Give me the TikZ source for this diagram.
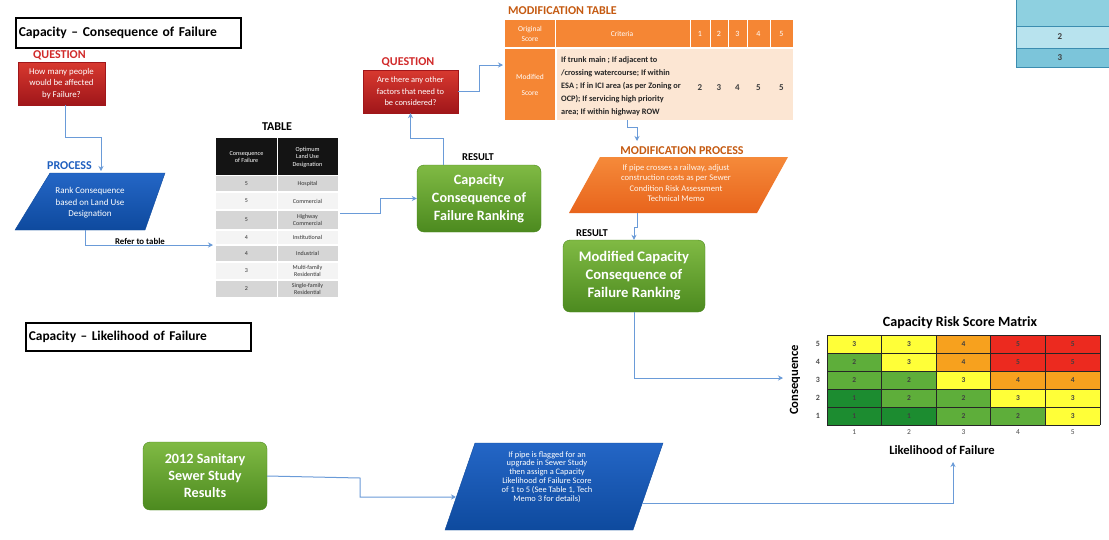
\documentclass[tikz,border=0pt]{standalone}
\usepackage{fontspec}
\setmainfont{Carlito}
\usetikzlibrary{arrows.meta}
\definecolor{connc}{HTML}{6A9BD8}
\definecolor{qred}{HTML}{D12A2A}
\definecolor{pblue}{HTML}{1F5FBF}
\definecolor{morange}{HTML}{C55A11}
\definecolor{redtop}{HTML}{D8392F}
\definecolor{redbot}{HTML}{A0161A}
\definecolor{bluetop}{HTML}{2466C6}
\definecolor{bluebot}{HTML}{0E4A9E}
\definecolor{greentop}{HTML}{80BA44}
\definecolor{greenbot}{HTML}{4C8A1F}
\definecolor{orhead}{HTML}{F58634}
\definecolor{orbody}{HTML}{FCE6D3}
\definecolor{ortop}{HTML}{F58A3A}
\definecolor{orbot}{HTML}{E8641C}
\definecolor{mDG}{HTML}{1C8C30}
\definecolor{mG}{HTML}{5EAE3A}
\definecolor{mY}{HTML}{FFFF38}
\definecolor{mO}{HTML}{F7A11E}
\definecolor{mR}{HTML}{EC2A1F}
\definecolor{tgray}{HTML}{D6D6D6}
\definecolor{twhite}{HTML}{F4F4F4}
\definecolor{cyA}{HTML}{8ED0E0}
\definecolor{cyB}{HTML}{B8E3EE}
\definecolor{cyC}{HTML}{7CC5DA}
\definecolor{cyL}{HTML}{3C8DB0}
\tikzset{
 conn/.style={draw=connc, line width=1pt, -{Stealth[length=5pt,width=5pt]}},
 titlebox/.style={draw=black, line width=1.6pt, anchor=north west, inner xsep=3pt, align=left},
 lbl/.style={font=\bfseries\fontsize{12}{14}\selectfont, inner sep=0pt},
 redbox/.style={draw=redbot, top color=redtop, bottom color=redbot, text=white, align=center, inner sep=2pt},
 greenbox/.style={draw=greenbot, rounded corners=7pt, top color=greentop, bottom color=greenbot, text=white, align=center},
 paratext/.style={text=white, align=center, inner sep=0pt},
 celltext/.style={font=\fontsize{6}{6.5}\selectfont, align=center, inner sep=0pt, text=black!80},
 mnum/.style={font=\bfseries\fontsize{7.5}{8}\selectfont, text=black!75, inner sep=0pt},
 axnum/.style={font=\fontsize{7.5}{8}\selectfont, text=black!70, inner sep=0pt},
}
\begin{document}
\begin{tikzpicture}[x=1pt,y=-1pt]
\useasboundingbox (0,0) rectangle (1109,539);
\fill[white] (0,0) rectangle (1109,539);

% top-right table fragment
\fill[cyA] (1016,0) rectangle (1109,26);
\fill[cyB] (1016,26) rectangle (1109,48);
\fill[cyC] (1016,48) rectangle (1109,67);
\draw[cyL, line width=0.8pt] (1016,0) -- (1016,67) -- (1109,67);
\draw[cyL, line width=0.8pt] (1016,26) -- (1109,26) (1016,48) -- (1109,48);
\node[font=\bfseries\fontsize{9}{10}\selectfont, text=black!75] (c2) at (1060,37) {2};
\node[font=\bfseries\fontsize{9}{10}\selectfont, text=black!75] (c3) at (1060,58) {3};

% titles
\node[titlebox, minimum width=225pt, minimum height=30pt, text width=219pt, font=\bfseries\fontsize{13.6}{15}\selectfont] (t1) at (15,17) {Capacity – Consequence of Failure};
\node[titlebox, minimum width=225pt, minimum height=28pt, text width=219pt, font=\bfseries\fontsize{13.4}{15}\selectfont] (t2) at (25,322) {Capacity – Likelihood of Failure};

% question 1
\node[lbl, text=qred, anchor=west] (ql1) at (33,55) {QUESTION};
\node[redbox, minimum width=87pt, minimum height=43pt, font=\fontsize{8.8}{11.3}\selectfont] (q1) at (61.5,83.5) {How many people\\would be affected\\by Failure?};

% process 1
\node[lbl, text=pblue, anchor=west] (pl1) at (47,166) {PROCESS};
\path[top color=bluetop, bottom color=bluebot, draw=bluebot] (50,173) -- (165,173) -- (145,230) -- (15,230) -- cycle;
\node[paratext, font=\fontsize{9}{11.5}\selectfont] (p1) at (90,203) {Rank Consequence\\based on Land Use\\Designation};
\coordinate (p1b) at (85,230);
\coordinate (p1t) at (101,171);

% table
\node[font=\bfseries\fontsize{12}{13}\selectfont, inner sep=0pt] (tl) at (277,127) {TABLE};
\fill[black!92] (216,138) rectangle (338,175);
\draw[white, line width=0.6pt] (277,138) -- (277,175);
\node[celltext, text=white, font=\fontsize{6.2}{7.5}\selectfont] (h1) at (246.5,157) {Consequence\\of Failure};
\node[celltext, text=white, font=\fontsize{6.2}{7.5}\selectfont] (h2) at (307.5,157) {Optimum\\Land Use\\Designation};
\foreach \ya/\yb/\n/\t/\c in {175/192/5/Hospital/tgray, 192/210/5/Commercial/twhite, 210/230/5/{Highway\\Commercial}/tgray, 230/245/4/Institutional/twhite, 245/262/4/Industrial/tgray, 262/280/3/{Multi-family\\Residential}/twhite, 280/298/2/{Single-family\\Residential}/tgray}{
  \fill[\c] (216,\ya+0.6) rectangle (338,\yb-0.6);
  \draw[white, line width=0.8pt] (277,\ya) -- (277,\yb);
  \node[celltext] at (246.5,{(\ya+\yb)/2}) {\n};
  \node[celltext] at (307.5,{(\ya+\yb)/2}) {\t};
}
\coordinate (tabW) at (213,245);
\coordinate (tabE) at (340,213);

% result 1
\node[font=\bfseries\fontsize{10.5}{12}\selectfont, inner sep=0pt] (rl1) at (478,157) {RESULT};
\node[greenbox, minimum width=124pt, minimum height=67pt, font=\bfseries\fontsize{14.2}{18}\selectfont] (g1) at (479,198.5) {Capacity\\Consequence of\\Failure Ranking};

% question 2
\node[lbl, text=qred] (ql2) at (408,62) {QUESTION};
\node[redbox, minimum width=95pt, minimum height=43pt, font=\fontsize{8.4}{11.5}\selectfont] (q2) at (410.5,91.5) {Are there any other\\factors that need to\\be considered?};

% modification table
\node[lbl, text=morange, anchor=west] (mtl) at (508,11) {MODIFICATION TABLE};
\fill[orhead] (505,20) rectangle (793,47);
\fill[orhead] (505,49) rectangle (555,120);
\fill[orbody] (557,49) rectangle (793,120);
\foreach \xa in {555,690,710,728,747,770}{
  \draw[white, line width=1pt] (\xa,20) -- (\xa,47);
}
\draw[white, line width=1.2pt] (505,48) -- (793,48);
\node[font=\fontsize{7.5}{9.5}\selectfont, text=white, align=center, inner sep=0pt] (oh) at (530,34) {Original\\Score};
\node[font=\fontsize{7.5}{9}\selectfont, text=white, inner sep=0pt] (ch) at (622,34) {Criteria};
\foreach \xc/\n in {700/1,719/2,737.5/3,758.5/4,781.5/5}{
  \node[font=\fontsize{8}{9}\selectfont, text=white, inner sep=0pt] at (\xc,34) {\n};
}
\node[font=\fontsize{7.5}{16}\selectfont, text=white, align=center, inner sep=0pt] (ms) at (530,85) {Modified\\Score};
\node[font=\bfseries\fontsize{8.3}{13}\selectfont, align=left, anchor=west, inner sep=0pt, text=black!85] (crit) at (561,86) {If trunk main ; If adjacent to\\/crossing watercourse; If within\\ESA ; If in ICI area (as per Zoning or\\OCP); If servicing high priority\\area; If within highway ROW};
\foreach \xc/\n in {700/2,719/3,737.5/4,758.5/5,781.5/5}{
  \node[font=\bfseries\fontsize{9}{10}\selectfont, text=black!75, inner sep=0pt] at (\xc,88) {\n};
}
\coordinate (mtW) at (503,65);
\coordinate (mtS) at (627,120);

% modification process
\node[lbl, text=morange] (mpl) at (682,151) {MODIFICATION PROCESS};
\path[top color=ortop, bottom color=orbot] (600,157) -- (788,157) -- (757,213) -- (569,213) -- cycle;
\node[paratext, font=\fontsize{8.6}{10.4}\selectfont, text=white!92!orange] (op) at (676,183) {If pipe crosses a railway, adjust\\construction costs as per Sewer\\Condition Risk Assessment\\Technical Memo};
\coordinate (opT) at (637,141);
\coordinate (opB) at (637,213);

% result 2
\node[font=\bfseries\fontsize{10.5}{12}\selectfont, inner sep=0pt] (rl2) at (592,233) {RESULT};
\node[greenbox, minimum width=142pt, minimum height=72pt, font=\bfseries\fontsize{14.6}{18}\selectfont] (g2) at (634,276) {Modified Capacity\\Consequence of\\Failure Ranking};

% green 3
\node[greenbox, minimum width=124pt, minimum height=68pt, font=\bfseries\fontsize{14.2}{17}\selectfont] (g3) at (205,476) {2012 Sanitary\\Sewer Study\\Results};

% blue parallelogram 2
\path[top color=bluetop, bottom color=bluebot, draw=bluebot] (475,443) -- (663,443) -- (633,530) -- (445,530) -- cycle;
\node[paratext, font=\fontsize{8.4}{8.9}\selectfont] (p2) at (547,477) {If pipe is flagged for an\\upgrade in Sewer Study\\then assign a Capacity\\Likelihood of Failure Score\\of 1 to 5 (See Table 1, Tech\\Memo 3 for details)};
\coordinate (p2W) at (456,497);
\coordinate (p2E) at (642,503);

% matrix
\node[font=\bfseries\fontsize{14.1}{15}\selectfont, inner sep=0pt] (mt) at (960,323) {Capacity Risk Score Matrix};
\foreach \r/\row in {0/{mY/3,mY/3,mO/4,mR/5,mR/5}, 1/{mG/2,mY/3,mO/4,mR/5,mR/5}, 2/{mG/2,mG/2,mY/3,mO/4,mO/4}, 3/{mDG/1,mG/2,mG/2,mY/3,mY/3}, 4/{mDG/1,mDG/1,mG/2,mG/2,mY/3}}{
  \foreach \c/\v [count=\i from 0] in \row {
    \fill[\c] ({827+54.6*\i},{335+18*\r}) rectangle ({827+54.6*(\i+1)},{335+18*(\r+1)});
    \node[mnum] at ({827+54.6*(\i+0.5)},{335+18*(\r+0.5)}) {\v};
  }
}
\foreach \i in {0,...,5}{
  \draw[black!85, line width=0.8pt] ({827+54.6*\i},335) -- ({827+54.6*\i},425);
  \draw[black!85, line width=0.8pt] (827,{335+18*\i}) -- (1100,{335+18*\i});
}
\foreach \r/\n in {0/5,1/4,2/3,3/2,4/1}{
  \node[axnum, font=\bfseries\fontsize{8}{9}\selectfont] at (818,{344+18*\r}) {\n};
}
\foreach \i in {1,...,5}{
  \node[axnum] at ({827+54.6*(\i-0.5)},432) {\i};
}
\node[font=\bfseries\fontsize{12.6}{13}\selectfont, rotate=90, inner sep=0pt] (cq) at (795,380) {Consequence};
\node[font=\bfseries\fontsize{12.6}{13}\selectfont, inner sep=0pt] (lf) at (942,450) {Likelihood of Failure};
\coordinate (mxW) at (783,378);
\coordinate (mxS) at (953,462);

% connectors
\draw[conn] (q1.south -| 65,0) -- (65,137) -- (101,137) -- (p1t);
\draw[conn] (p1b) -- (85,245) -- (tabW);
\node[font=\bfseries\fontsize{8.8}{10}\selectfont, inner sep=0pt] (rt) at (140,241) {Refer to table};
\draw[conn] (tabE) -- (380,213) |- (g1.west);
\draw[conn] (g1.north -| 443,0) -- (443,138) -| (q2.south);
\draw[conn] (q2.east) -- (479,91.5) |- (mtW);
\draw[conn] (mtS) -- (627,127) -| (opT);
\draw[conn] (opB) -- (637,227) -| (g2.north);
\draw[conn] (g2.south) -- (634,378) -- (mxW);
\draw[conn] (g3.east) -- (360,478) |- (p2W);
\draw[conn] (p2E) -| (mxS);
\end{tikzpicture}
\end{document}
